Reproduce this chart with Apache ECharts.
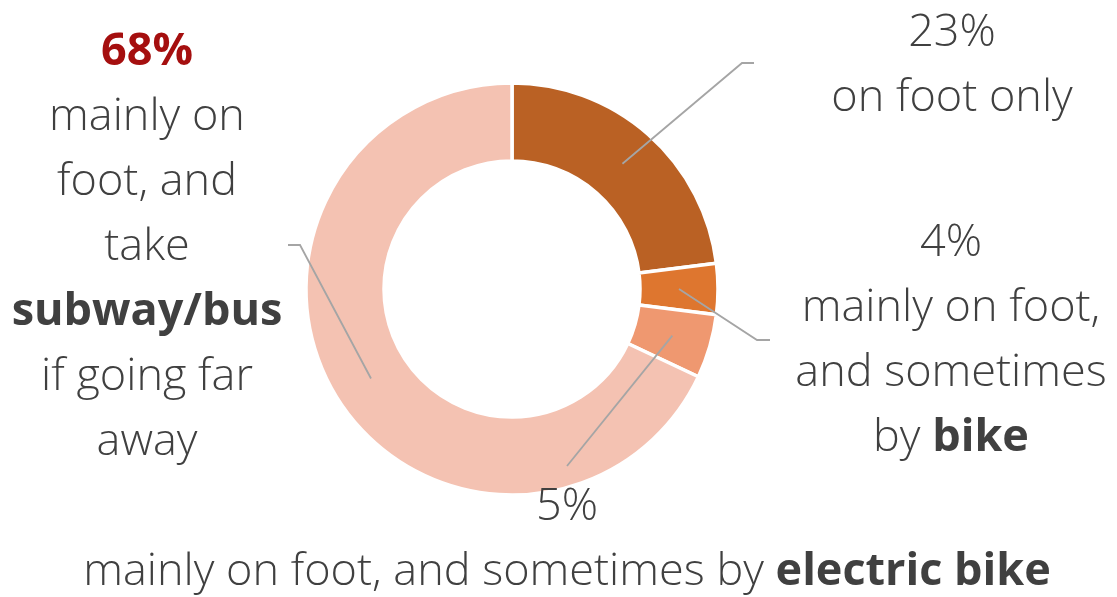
<!DOCTYPE html>
<html>
<head>
<meta charset="utf-8">
<script src="https://cdn.jsdelivr.net/npm/echarts@6/dist/echarts.min.js"></script>
<style>
  html, body { margin: 0; padding: 0; background: #ffffff; }
  #chart { width: 1117px; height: 597px; }
</style>
</head>
<body>
<div id="chart"></div>
<script>
// Commuting modes, share of respondents (%)
const categories = ['on foot only', 'foot + bike', 'foot + electric bike', 'foot + subway/bus'];
const shares = [23, 4, 5, 68];
// Label lines (rich-text tokens: {t|} plain, {b|} bold)
const labelLines = [
  ['{t|on foot only}'],
  ['{t|mainly on foot,}', '{t|and sometimes}', '{t|by }{b|bike}'],
  ['{t|mainly on foot, and sometimes by }{b|electric bike}'],
  ['{t|mainly on}', '{t|foot, and}', '{t|take}', '{b|subway/bus}', '{t|if going far}', '{t|away}']
];

const colors = ['#BA6124', '#DE762F', '#EF9870', '#F4C2B2'];
const FONT = '"Open Sans", "Noto Sans", sans-serif';
const FS = 45;
const LH = 65;
const CENTER = [512, 289];
const RADII = [128, 206];
// Label block anchors (top-centre) and leader elbow/end points
const labelAnchor = [[952, 1], [951, 211], [567, 475], [147, 20]];
const leaderBend = [
  [[742, 63], [754, 63]],
  [[757, 340], [770, 340]],
  [[567, 466], [567, 466]],
  [[300, 245], [288, 245]]
];

const total = shares.reduce((a, b) => a + b, 0);
function sliceMid(i) {
  let before = 0;
  for (let k = 0; k < i; k++) before += shares[k];
  const frac = (before + shares[i] / 2) / total;
  const ang = (90 - frac * 360) * Math.PI / 180;
  const r = (RADII[0] + RADII[1]) / 2;
  return [CENTER[0] + r * Math.cos(ang), CENTER[1] - r * Math.sin(ang)];
}

const textStyle = (weight, color) => ({
  fontFamily: FONT, fontWeight: weight, fontSize: FS, lineHeight: LH, color: color
});

const pieData = categories.map((name, i) => ({ name: name, value: shares[i] }));

const chart = echarts.init(document.getElementById('chart'), null, { renderer: 'canvas' });
chart.setOption({
  backgroundColor: '#ffffff',
  animation: false,
  series: [
    // Coloured ring
    {
      type: 'pie',
      z: 2,
      center: CENTER,
      radius: RADII,
      startAngle: 90,
      clockwise: true,
      silent: true,
      label: { show: false },
      labelLine: { show: false },
      itemStyle: {
        borderColor: '#ffffff',
        borderWidth: 3.5,
        color: (p) => colors[p.dataIndex]
      },
      data: pieData
    },
    // Transparent overlay carrying labels and leader lines above the ring
    {
      type: 'pie',
      z: 3,
      center: CENTER,
      radius: RADII,
      startAngle: 90,
      clockwise: true,
      silent: true,
      avoidLabelOverlap: false,
      itemStyle: { color: 'rgba(0,0,0,0)', borderWidth: 0 },
      label: {
        show: true,
        position: 'outside',
        formatter: function (p) {
          const i = p.dataIndex;
          const pct = i === 3 ? '{pr|' + p.value + '%}' : '{p|' + p.value + '%}';
          return [pct].concat(labelLines[i]).join('\n');
        },
        rich: {
          t: textStyle(300, '#404040'),
          b: textStyle('bold', '#404040'),
          p: textStyle(300, '#404040'),
          pr: textStyle('bold', '#A50F0F')
        }
      },
      labelLine: {
        show: true,
        lineStyle: { color: '#A5A5A5', width: 1.8 }
      },
      labelLayout: function (params) {
        const i = params.dataIndex;
        const a = labelAnchor[i];
        return {
          x: a[0],
          y: a[1],
          align: 'center',
          verticalAlign: 'top',
          labelLinePoints: [sliceMid(i), leaderBend[i][0], leaderBend[i][1]]
        };
      },
      data: pieData
    }
  ]
});
</script>
</body>
</html>
